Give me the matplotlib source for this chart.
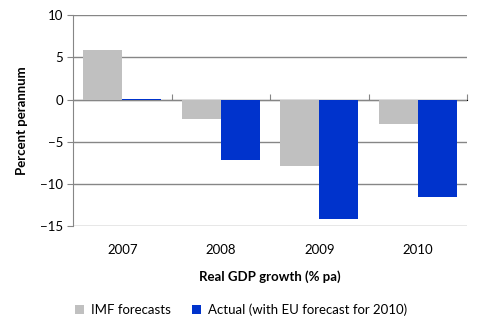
import matplotlib.pyplot as plt
import numpy as np

plt.rcParams["font.family"] = ["Lato", "DejaVu Sans"]

# ============================================================
# DATI
# ============================================================

years = ["2007", "2008", "2009", "2010"]

imf_forecasts = [5.9, -2.25, -7.9, -2.95]

actual_values = [0.1, -7.2, -14.2, -11.5]

y_ticks = [-15, -10, -5, 0, 5, 10]


# ============================================================
# GRAFICO
# ============================================================

figure = plt.figure(figsize=(4.82, 3.31), dpi=100)

axis = figure.add_axes([0.1515, 0.317, 0.8175, 0.637])

positions = np.arange(len(years))
bar_width = 0.395

axis.bar(
    positions - bar_width / 2,
    imf_forecasts,
    width=bar_width,
    color="#C0C0C0",
    label="IMF forecasts",
    zorder=3,
)

axis.bar(
    positions + bar_width / 2,
    actual_values,
    width=bar_width,
    color="#0033CC",
    label="Actual (with EU forecast for 2010)",
    zorder=3,
)

axis.set_xlim(-0.5, len(years) - 0.5)
axis.set_ylim(-15, 10)
axis.set_yticks(y_ticks)
axis.grid(axis="y", color="#868686", linewidth=1.0, zorder=0)

axis.set_xticks(positions)
axis.set_xticklabels(years, fontsize=9.5)
axis.tick_params(axis="x", length=0, pad=13)
axis.tick_params(axis="y", labelsize=9.5, length=4, color="#868686", pad=3)

for side in ["top", "right", "bottom"]:
    axis.spines[side].set_visible(False)
axis.spines["left"].set_color("#868686")

# asse delle categorie sullo zero
zero_axis = axis.secondary_xaxis(15 / 25)
zero_axis.set_xticks(list(positions[:-1] + 0.5) + [len(years) - 0.5])
zero_axis.tick_params(length=4, color="#868686", labelbottom=False,
                      labeltop=False, direction="out")
zero_axis.spines["bottom"].set_color("#868686")
zero_axis.spines["bottom"].set_zorder(4)

axis.set_xlabel("Real GDP growth (% pa)", fontsize=9.5, fontweight="bold",
                labelpad=10)
axis.set_ylabel("Percent perannum", fontsize=9.5, fontweight="bold",
                labelpad=9)

figure.legend(
    loc="center",
    bbox_to_anchor=(0.5, 0.063),
    ncol=2,
    frameon=False,
    fontsize=9.5,
    handlelength=0.7,
    handleheight=0.7,
    columnspacing=1.6,
    handletextpad=0.5,
)

figure.savefig("out.png", dpi=100)
plt.close(figure)
